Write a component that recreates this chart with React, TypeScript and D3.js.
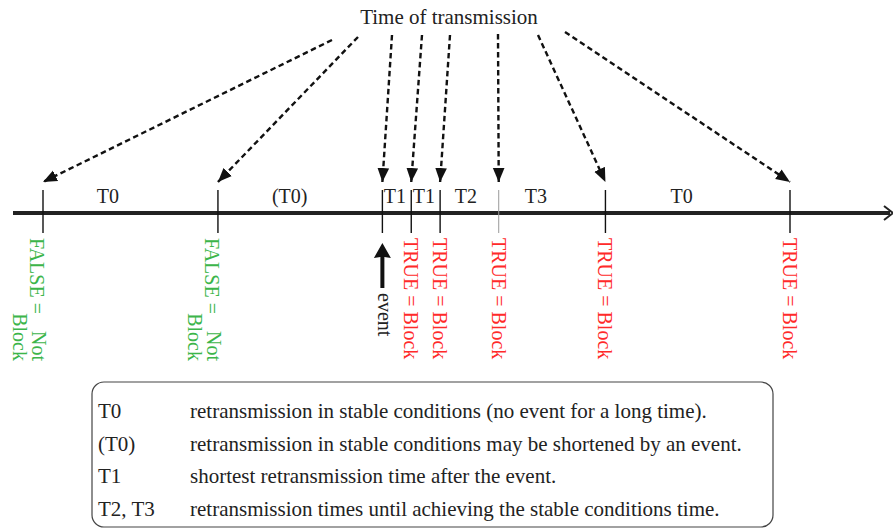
import React from "react";
import * as d3 from "d3";

// ---- data ----
const tickTimes = [0, 10, 19.4, 21.05, 22.7, 26.05, 32.15, 42.7];
const tickKinds = ["false", "false", "event", "true", "true", "true", "true", "true"];
const intervalLabels = ["T0", "(T0)", "T1", "T1", "T2", "T3", "T0"];
const intervalLabelTimes = [3.71, 14.1, 20.11, 21.77, 24.17, 28.17, 36.51];
const titleText = "Time of transmission";
const legendKeys = ["T0", "(T0)", "T1", "T2, T3"];
const legendTexts = [
  "retransmission in stable conditions (no event for a long time).",
  "retransmission in stable conditions may be shortened by an event.",
  "shortest retransmission time after the event.",
  "retransmission times until achieving the stable conditions time.",
];

// ---- layout ----
const W = 893;
const H = 530;
const AXIS_Y = 213;
const FONT = "'Liberation Serif', 'Times New Roman', serif";
const GREEN = "#3cb54a";
const RED = "#ff2a2a";
const arrowStarts: [number, number][] = [
  [332, 40], [358, 37], [392, 35], [422, 35], [450, 35], [498, 34], [538, 35], [565, 32],
];

export default function App() {
  const x = d3.scaleLinear().domain([0, 42.7]).range([43, 790]);
  const line = d3.line();

  return (
    <svg width={W} height={H} style={{ position: "absolute", left: 0, top: 0, background: "#fff" }}>
      <defs>
        <marker id="ah" markerUnits="userSpaceOnUse" markerWidth={14} markerHeight={14}
          viewBox="0 0 12 10" refX={12} refY={5} orient="auto">
          <path d="M0,0 L12,5 L0,10 Z" fill="#111" />
        </marker>
      </defs>

      {/* title */}
      <text x={449} y={24} textAnchor="middle" fontFamily={FONT} fontSize={21} fill="#222">{titleText}</text>

      {/* dashed arrows */}
      {tickTimes.map((t, i) => (
        <path key={"a" + i}
          d={line([arrowStarts[i], [x(t), 182]]) || ""}
          stroke="#111" strokeWidth={2.4} strokeDasharray="5.5,3.5" fill="none" markerEnd="url(#ah)" />
      ))}

      {/* axis */}
      <line x1={13} x2={890} y1={AXIS_Y} y2={AXIS_Y} stroke="#222" strokeWidth={4} />
      <path d="M884,206 L893,213 L884,220" stroke="#222" strokeWidth={2} fill="none" />

      {/* ticks */}
      {tickTimes.map((t, i) => (
        <line key={"t" + i} x1={x(t)} x2={x(t)} y1={190} y2={233}
          stroke={i === 5 ? "#999" : "#111"} strokeWidth={i === 5 ? 1 : 1.4} />
      ))}

      {/* interval labels */}
      {intervalLabels.map((l, i) => (
        <text key={"l" + i} x={x(intervalLabelTimes[i])} y={203} textAnchor="middle"
          fontFamily={FONT} fontSize={20} fill="#222">{l}</text>
      ))}

      {/* vertical labels */}
      {tickTimes.map((t, i) => {
        const tx = x(t);
        const k = tickKinds[i];
        if (k === "true") {
          return (
            <text key={"v" + i} transform={`translate(${tx - 7},238) rotate(90)`}
              fontFamily={FONT} fontSize={20} fill={RED}>TRUE = Block</text>
          );
        }
        if (k === "false") {
          return (
            <g key={"v" + i} fill={GREEN} fontFamily={FONT} fontSize={20}>
              <text transform={`translate(${tx - 13},238) rotate(90)`}>FALSE =</text>
              <text transform={`translate(${tx - 11},361) rotate(90)`} textAnchor="end">Not</text>
              <text transform={`translate(${tx - 30},361) rotate(90)`} textAnchor="end">Block</text>
            </g>
          );
        }
        return (
          <g key={"v" + i}>
            <path d={`M${tx - 2},288 L${tx - 2},257 L${tx - 8.5},258 L${tx},243 L${tx + 8.5},258 L${tx + 2},257 L${tx + 2},288 Z`}
              fill="#111" />
            <text transform={`translate(${tx - 4},293) rotate(90)`} fontFamily={FONT} fontSize={20} fill="#222">event</text>
          </g>
        );
      })}

      {/* legend box */}
      <rect x={92} y={382} width={681} height={145} rx={12} ry={12} fill="none" stroke="#444" strokeWidth={1.2} />
      {legendKeys.map((k, i) => {
        const y = 418 + i * 32.7;
        return (
          <g key={"g" + i} fontFamily={FONT} fontSize={21} fill="#222">
            <text x={98} y={y}>{k}</text>
            <text x={190} y={y}>{legendTexts[i]}</text>
          </g>
        );
      })}
    </svg>
  );
}
